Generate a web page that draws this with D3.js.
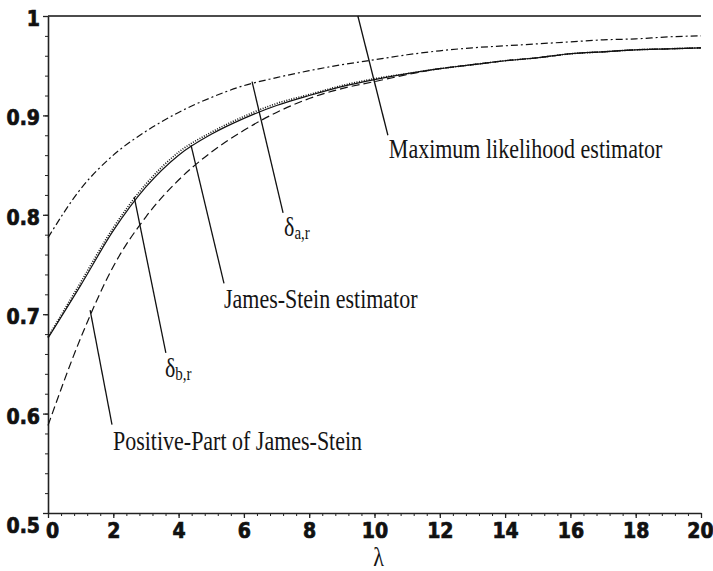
<!doctype html>
<html>
<head>
<meta charset="utf-8">
<title>Estimators vs lambda</title>
<style>
body { margin: 0; background: #fff; }
.axis .tick text {
  font-family: "Liberation Sans Narrow", "Arial Narrow", "DejaVu Sans Condensed", sans-serif;
  font-weight: bold; font-size: 21px; fill: #111;
  stroke: #111; stroke-width: 0.7px;
}
.axis path, .axis line { stroke: #222; }
.lbl { font-family: "Liberation Serif", "Times New Roman", serif; font-size: 22px; fill: #141414; }
</style>
</head>
<body>
<div id="chart"></div>
<script src="https://cdn.jsdelivr.net/npm/d3@7/dist/d3.min.js"></script>
<script>
// values
var lambda   = [0, 1, 2, 3, 4, 5, 6, 7, 8, 9, 10, 11, 12, 13, 14, 15, 16, 17, 18, 19, 20];
var mle      = [1, 1, 1, 1, 1, 1, 1, 1, 1, 1, 1, 1, 1, 1, 1, 1, 1, 1, 1, 1, 1];
var deltaA   = [0.777, 0.826, 0.860, 0.884, 0.903, 0.918, 0.930, 0.938, 0.945, 0.951, 0.956,
                0.961, 0.965, 0.968, 0.970, 0.972, 0.974, 0.976, 0.977, 0.979, 0.980];
var jamesStein = [0.676, 0.729, 0.784, 0.828, 0.860, 0.881, 0.897, 0.910, 0.920, 0.929, 0.936,
                0.942, 0.947, 0.951, 0.955, 0.958, 0.962, 0.964, 0.966, 0.967, 0.968];
var deltaB   = [0.677, 0.732, 0.787, 0.831, 0.863, 0.883, 0.899, 0.912, 0.921, 0.930, 0.937,
                0.942, 0.947, 0.951, 0.955, 0.958, 0.962, 0.964, 0.966, 0.967, 0.968];
var positivePart = [0.588, 0.676, 0.748, 0.798, 0.835, 0.863, 0.885, 0.903, 0.917, 0.927, 0.934,
                0.941, 0.947, 0.951, 0.955, 0.958, 0.962, 0.964, 0.966, 0.967, 0.968];

var xTicks = [0, 2, 4, 6, 8, 10, 12, 14, 16, 18, 20];
var yTicks = [0.5, 0.6, 0.7, 0.8, 0.9, 1];
var yTickLabels = ["0.5", "0.6", "0.7", "0.8", "0.9", "1"];

// label leaders: [lambda, value] of the curve end, the line end and the text
var notes = [
  {text: "Maximum likelihood estimator", from: [9.49, 1.0], to: [10.41, 0.880], at: [10.44, 0.857]},
  {text: "\u03b4", sub: "a,r", from: [6.25, 0.934], to: [7.20, 0.802], at: [7.23, 0.779]},
  {text: "James-Stein estimator", from: [4.38, 0.870], to: [5.39, 0.731], at: [5.39, 0.706]},
  {text: "\u03b4", sub: "b,r", from: [2.64, 0.818], to: [3.61, 0.661], at: [3.58, 0.637]},
  {text: "Positive-Part of James-Stein", from: [1.29, 0.704], to: [1.96, 0.589], at: [1.99, 0.563]}
];

var width = 713, height = 571;
var margin = {top: 16, right: 12, bottom: 58, left: 48};

var svg = d3.select("#chart").append("svg")
  .attr("width", width).attr("height", height);

var x = d3.scaleLinear().domain([0, 20]).range([margin.left, width - margin.right]);
var y = d3.scaleLinear().domain([0.5, 1]).range([height - margin.bottom, margin.top]);

// minor ticks
svg.append("g").attr("class", "axis")
  .attr("transform", "translate(0," + y(0.5) + ")")
  .call(d3.axisBottom(x).tickValues(d3.range(0, 20.01, 0.4)).tickSize(3).tickFormat(""))
  .call(function(g) { g.select(".domain").remove(); });
svg.append("g").attr("class", "axis")
  .attr("transform", "translate(" + x(0) + ",0)")
  .call(d3.axisLeft(y).tickValues(d3.range(0.5, 1.001, 0.02)).tickSize(3).tickFormat(""))
  .call(function(g) { g.select(".domain").remove(); });

// major axes
var gx = svg.append("g").attr("class", "axis")
  .attr("transform", "translate(0," + y(0.5) + ")")
  .call(d3.axisBottom(x).tickValues(xTicks).tickSize(5).tickSizeOuter(0).tickPadding(5));
gx.selectAll(".tick text").filter(function(d) { return d === 0; }).attr("dx", 4);
gx.selectAll(".tick text").filter(function(d) { return d === 20; }).attr("dx", -1);

var gy = svg.append("g").attr("class", "axis")
  .attr("transform", "translate(" + x(0) + ",0)")
  .call(d3.axisLeft(y).tickValues(yTicks).tickSize(5).tickSizeOuter(0).tickPadding(3)
    .tickFormat(function(d, i) { return yTickLabels[i]; }));
gy.selectAll(".tick text").attr("dy", "0.45em")
  .filter(function(d) { return d === 0.5; }).attr("dy", "0.95em");

svg.selectAll(".axis .domain").attr("stroke-width", 1.6);
gx.selectAll(".tick line").attr("stroke-width", 1.3);
gy.selectAll(".tick line").attr("stroke-width", 1.3);

// curves
var line = d3.line()
  .x(function(d, i) { return x(lambda[i]); })
  .y(function(d) { return y(d); })
  .curve(d3.curveMonotoneX);

var series = [
  {values: mle, dash: null, w: 1.6},
  {values: deltaA, dash: "7,3,2,3", w: 1.2},
  {values: positivePart, dash: "8,4", w: 1.2},
  {values: jamesStein, dash: null, w: 1.2},
  {values: deltaB, dash: "1,1.5", w: 1.6}
];
svg.selectAll("path.curve").data(series).enter().append("path")
  .attr("class", "curve")
  .attr("d", function(d) { return line(d.values); })
  .attr("fill", "none")
  .attr("stroke", "#111")
  .attr("stroke-width", function(d) { return d.w; })
  .attr("stroke-dasharray", function(d) { return d.dash; });

// leaders
svg.selectAll("line.leader").data(notes).enter().append("line")
  .attr("class", "leader")
  .attr("x1", function(d) { return x(d.from[0]); })
  .attr("y1", function(d) { return y(d.from[1]); })
  .attr("x2", function(d) { return x(d.to[0]); })
  .attr("y2", function(d) { return y(d.to[1]); })
  .attr("stroke", "#111").attr("stroke-width", 1.3);

var lbl = svg.selectAll("text.lbl").data(notes).enter().append("text")
  .attr("class", "lbl")
  .attr("transform", function(d) {
    return "translate(" + x(d.at[0]) + "," + y(d.at[1]) + ") scale(1,1.2)";
  });
lbl.append("tspan").text(function(d) { return d.text; });
lbl.filter(function(d) { return d.sub; }).append("tspan")
  .attr("font-size", "15px").attr("dy", 3)
  .text(function(d) { return d.sub; });

// axis title
svg.append("text").attr("class", "lbl")
  .attr("text-anchor", "middle")
  .attr("transform", "translate(" + (x(10) + 4) + "," + (height - 5) + ") scale(1,1.2)")
  .text("\u03bb");
</script>
</body>
</html>
